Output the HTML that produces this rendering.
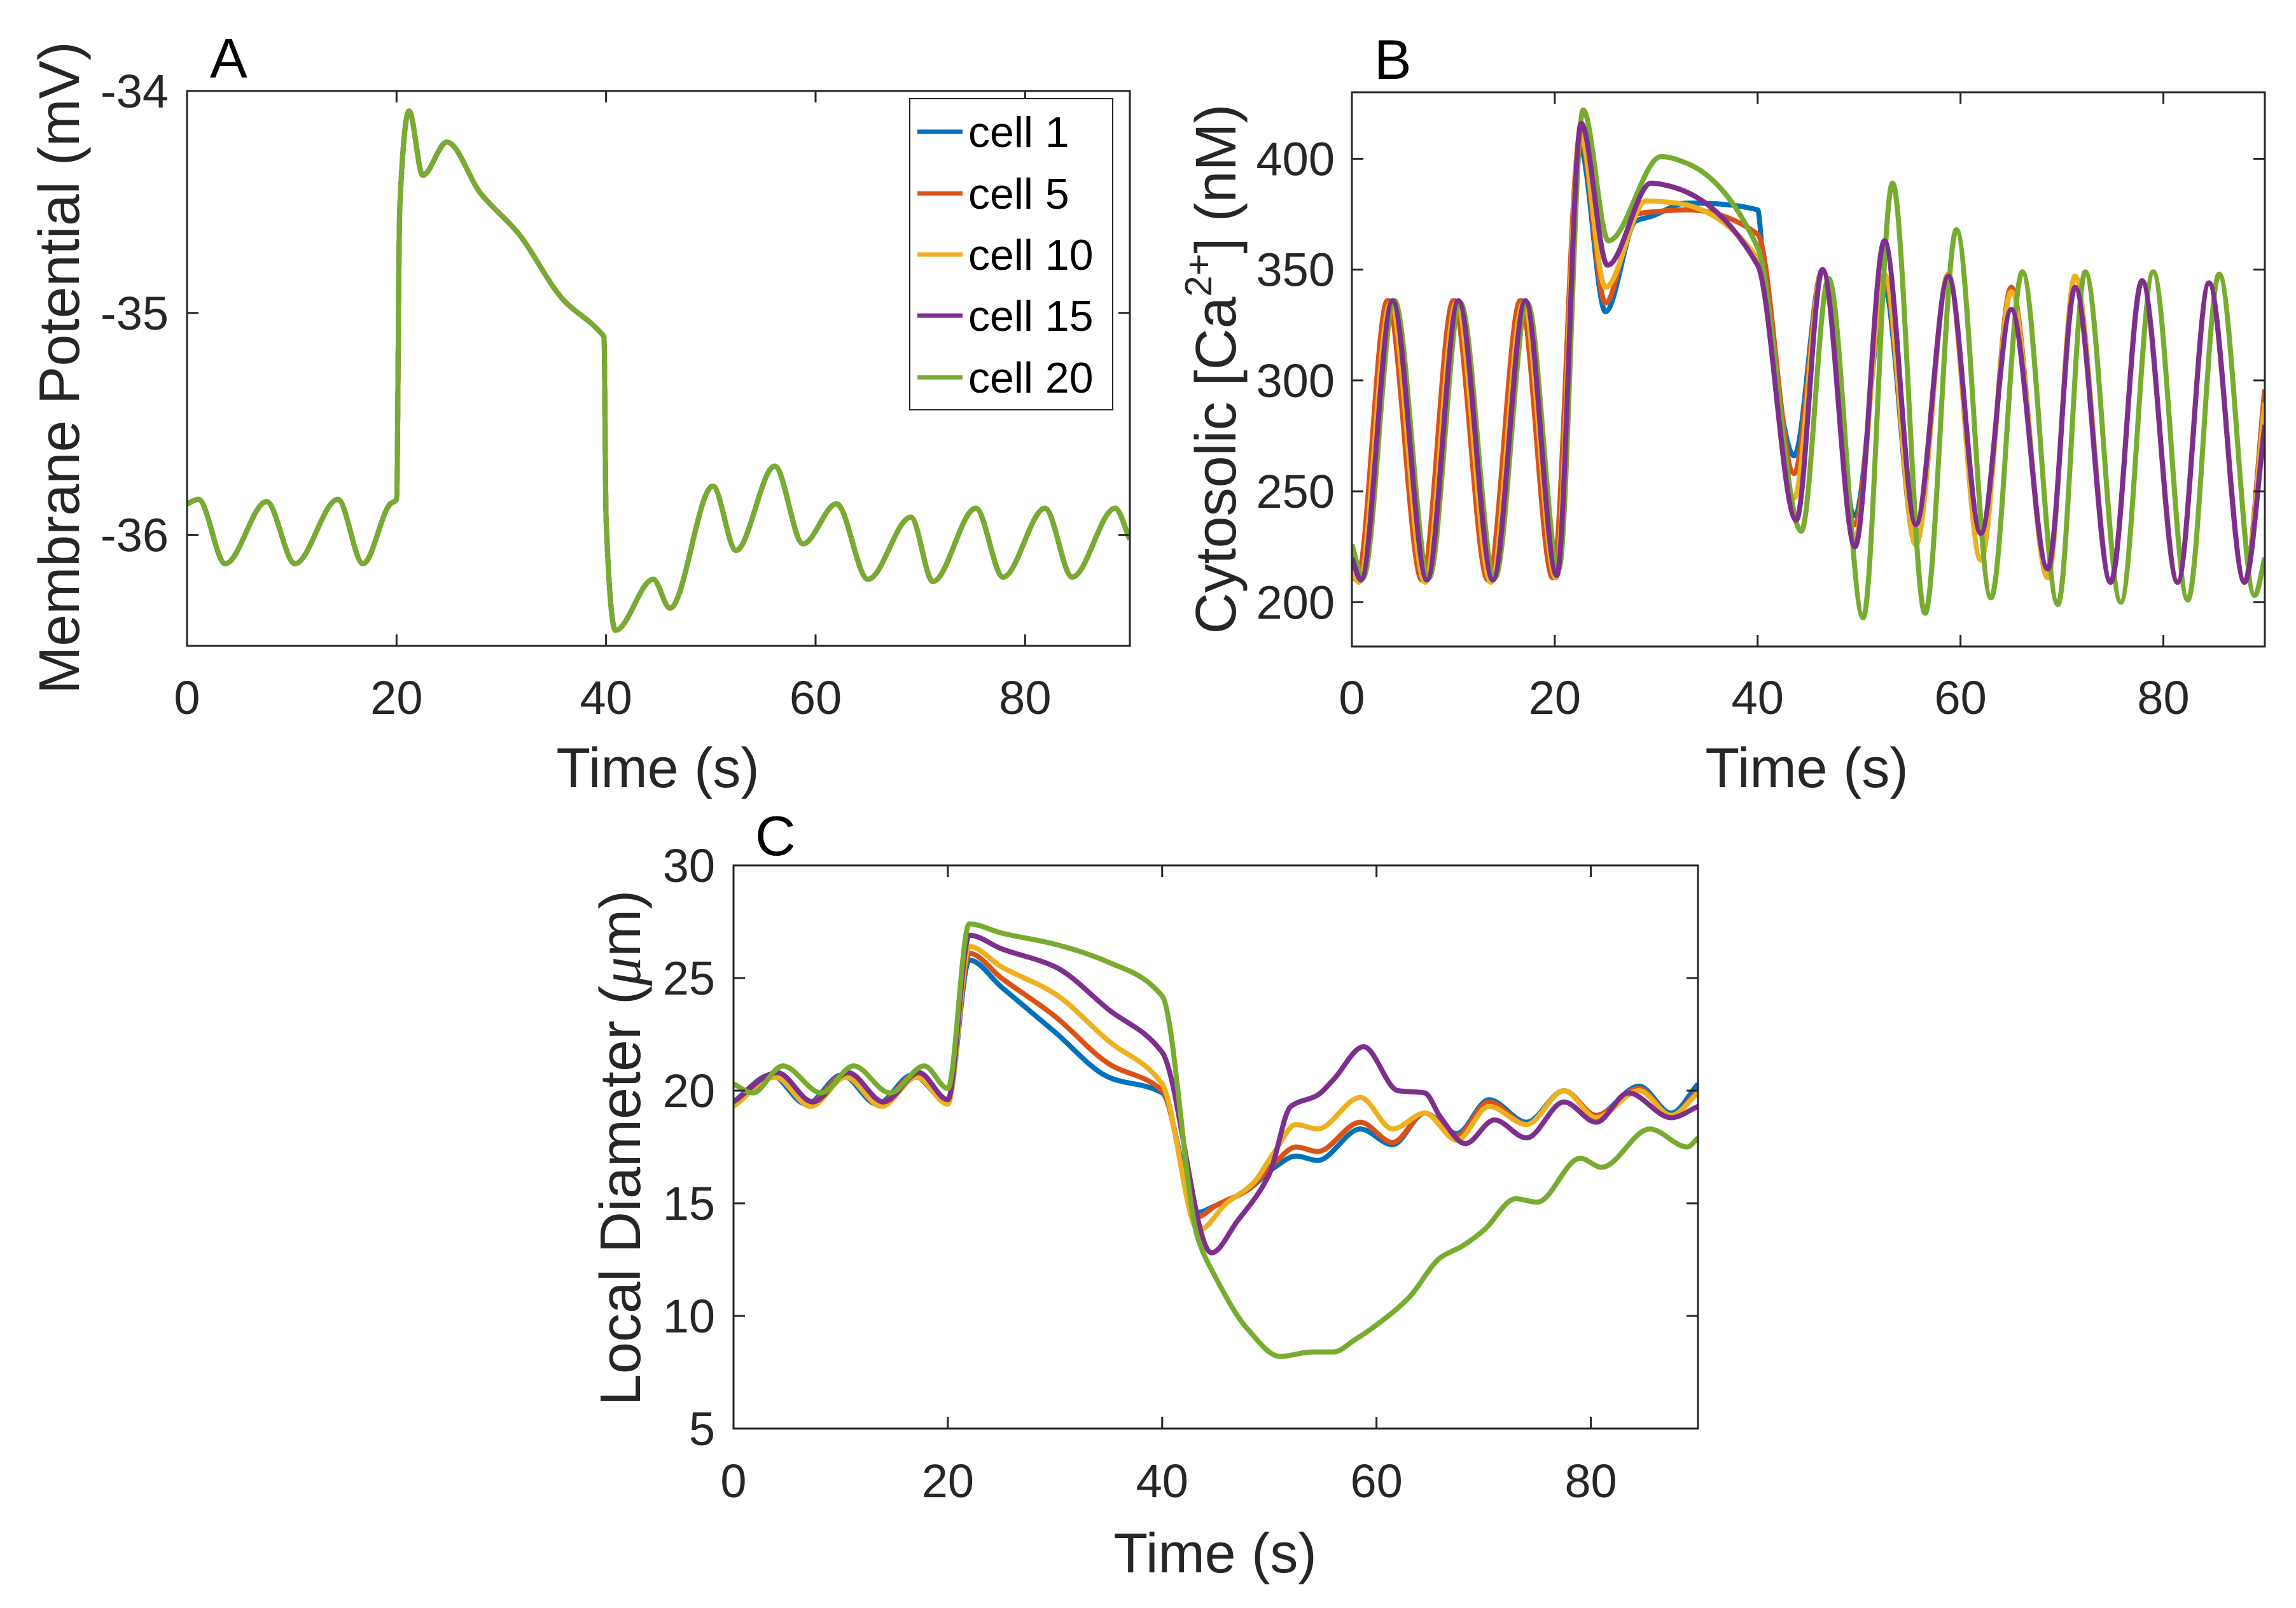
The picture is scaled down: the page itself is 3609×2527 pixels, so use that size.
<!DOCTYPE html>
<html><head><meta charset="utf-8"><style>
html,body{margin:0;padding:0;background:#fff;}
svg{display:block;font-family:"Liberation Sans",Arial,sans-serif;}
</style></head><body>
<svg id="fig" width="3609" height="2527" viewBox="0 0 3609 2527" xmlns="http://www.w3.org/2000/svg">
<rect x="0" y="0" width="3609" height="2527" fill="#fff"/>
</svg>
<script>
// ---------- DATA ----------
const seriesNames = ["cell 1","cell 5","cell 10","cell 15","cell 20"];
const seriesColors = ["#0072BD","#D95319","#EDB120","#7E2F8E","#77AC30"];
const xTicks = [0,20,40,60,80];

// Panel A: membrane potential (all cells coincide)
const aTime = [0,1.1,3.65,7.6,10.3,14.4,16.8,19.4,20,20.3,21.2,22.5,24.8,28,31.6,35.9,39.5,39.8,40.0,40.9,44.5,46.1,50.2,52.4,56.1,58.8,62,65,69.1,71.2,75.3,77.9,81.9,84.5,88.6,90];
const aVm = [-35.86,-35.84,-36.13,-35.85,-36.13,-35.84,-36.13,-35.86,-35.84,-34.53,-34.09,-34.38,-34.23,-34.46,-34.64,-34.94,-35.09,-35.11,-35.93,-36.43,-36.2,-36.33,-35.78,-36.07,-35.69,-36.04,-35.86,-36.2,-35.92,-36.21,-35.88,-36.19,-35.88,-36.19,-35.88,-36.02];
const aYTicks = [-36,-35,-34];

// Panel B: cytosolic Ca2+ per cell
const bTime1 = [0,0.6,3.6,7.0,10.1,13.5,16.7,19.9,22.5,25,28,29.5,33,40,40.6,43.6,46.4,49.6,52.5,55.6,58.8,62,65,68.6,71.3,74.8,77.9,81.4,84.5,88,90];
const bCa1 =   [218,210,336,210,336,210,336,212,405,331,372,374,380,377,350,266,350,239,340,226,348,219,342,211,347,209,345,209,344,209,296];
const bTime5 = [0,0.5,3.5,6.9,10.0,13.4,16.6,19.8,22.5,25,28,29.5,33,40,43.6,46.4,49.6,52.5,55.6,58.8,62,65,68.6,71.3,74.8,77.9,81.4,84.5,88,90];
const bCa5 =   [212,210,336,210,336,210,336,211,410,335,375,376,377,366,258,350,235,345,226,348,219,342,211,347,209,345,209,344,209,296];
const bTime10 = [0,0.7,3.8,7.2,10.3,13.7,16.9,20.1,22.5,25,29,32,40,43.6,46.4,49.6,52.5,55.6,58.8,62,65,68.6,71.3,74.8,77.9,81.4,84.5,88,90];
const bCa10 =   [214,209,335,209,335,209,335,211,412,342,381,380,355,247,350,229,348,226,348,219,340,211,347,209,345,209,344,209,290];
const bTime15 = [0,0.9,4.0,7.4,10.5,13.9,17.1,20.2,22.6,25.2,29.5,31,40,43.8,46.4,49.6,52.5,55.6,58.8,62,65,68.6,71.3,74.8,77.9,81.4,84.5,88,90];
const bCa15 =   [220,210,336,210,336,210,336,212,416,352,389,388,352,237,350,225,363,235,347,231,332,215,342,209,345,209,344,209,280];
const bTime20 = [0,1.1,4.2,7.6,10.7,14.1,17.3,20.4,22.8,25.3,30.5,33,40,44.3,47,50.4,53.3,56.5,59.6,63,66.1,69.6,72.3,75.8,79,82.4,85.5,89,90];
const bCa20 =   [226,211,336,211,335,211,335,215,422,363,401,398,360,232,346,193,389,195,368,202,349,199,349,200,349,201,348,203,220];
const bYTicks = [200,250,300,350,400];

// Panel C: local diameter per cell
const cTime1 = [0,3.5,6.8,10.1,13.4,16.7,20,22,25,30,35,40,43.3,45,48,50.5,52.5,54.5,58.5,61.5,64.5,67.5,70.5,74,77.5,80.5,84.5,87.5,90];
const cDiam1 = [19.5,20.7,19.4,20.7,19.4,20.7,19.5,25.8,24.6,22.6,20.6,19.9,14.6,14.9,15.6,16.6,17.1,16.9,18.3,17.6,19.0,18.1,19.6,18.6,20.0,18.9,20.2,19.0,20.3];
const cTime5 = [0,3.7,7.0,10.3,13.6,16.9,20,22,25,30,35,40,43.3,45,48,50.5,52.5,54.5,58.5,61.5,64.5,67.5,70.5,74,77.5,80.5,84.5,87.5,90];
const cDiam5 = [19.5,20.7,19.4,20.7,19.4,20.7,19.5,26.1,25.0,23.3,21.2,20.0,14.4,14.9,15.6,16.8,17.5,17.3,18.6,17.7,19.0,18.0,19.5,18.5,20.0,18.9,20.1,18.9,20.0];
const cTime10 = [0,3.9,7.2,10.5,13.8,17.1,20,22,25,30,35,40,43.4,46,48.5,50.5,52.5,54.5,58.5,61.5,64.5,67.5,70.5,74,77.5,80.5,84.5,87.5,90];
const cDiam10 = [19.3,20.6,19.3,20.6,19.3,20.6,19.4,26.4,25.5,24.3,22.2,20.3,13.8,15.0,15.9,17.3,18.5,18.3,19.7,18.3,19.0,17.8,19.3,18.5,20.0,18.8,20.0,18.9,19.9];
const cTime15 = [0,4.1,7.4,10.7,14.0,17.3,20,22,25,30,35,40,44.6,47,50,52,54.5,56,58.8,62,64.5,66,68.3,71,74,77.5,80.5,83.5,87.5,90];
const cDiam15 = [19.5,20.8,19.5,20.8,19.5,20.8,19.6,26.9,26.3,25.5,23.6,21.7,12.8,14.2,16.3,19.3,19.8,20.5,21.95,20.0,19.9,18.8,17.65,18.7,17.9,19.5,18.6,19.9,18.8,19.3];
const cTime20 = [0,1.8,4.6,8.2,11.2,14.6,17.8,20,22,25,30,35,40,43.3,45,48,51,54,56,58,60,63,66,68,70,73,75,79,81,85.5,89,90];
const cDiam20 = [20.3,19.9,21.1,19.9,21.1,19.9,21.1,20.1,27.4,27.0,26.5,25.7,24.2,13.5,11.7,9.4,8.2,8.4,8.4,8.95,9.6,10.8,12.6,13.1,13.8,15.2,15.05,17.0,16.6,18.3,17.5,17.9];
const cYTicks = [5,10,15,20,25,30];

// ---------- RENDER ----------
const NS = "http://www.w3.org/2000/svg";
const svg = document.getElementById("fig");
function mk(tag, attrs, parent){
  const e = document.createElementNS(NS, tag);
  for (const k in attrs) e.setAttribute(k, attrs[k]);
  (parent||svg).appendChild(e);
  return e;
}
function txt(str, x, y, size, anchor, parent){
  const t = mk("text", {x:x, y:y, "font-size":size, "text-anchor":anchor||"start", fill:"#262626"}, parent);
  t.textContent = str;
  return t;
}
function makeAxes(name, L, R, T, B, xmin, xmax, ymin, ymax){
  const g = mk("g", {});
  
  
  const sx = v => L + (v - xmin) / (xmax - xmin) * (R - L);
  const sy = v => B - (v - ymin) / (ymax - ymin) * (B - T);
  const cid = "clip-" + name;
  const cp = mk("clipPath", {id: cid}, g);
  mk("rect", {x:L, y:T, width:R-L, height:B-T}, cp);
  return {g, sx, sy, L, R, T, B, cid};
}
function drawFrame(ax, yTicks, yTickFmt, yLabelX, xTickBase){
  const g = ax.g;
  const tl = 18;
  xTicks.forEach(v => {
    const x = ax.sx(v);
    const t1 = mk("line", {x1:x, y1:ax.B, x2:x, y2:ax.B-tl, stroke:"#262626", "stroke-width":3}, g);
    
    
    mk("line", {x1:x, y1:ax.T, x2:x, y2:ax.T+tl, stroke:"#262626", "stroke-width":3}, g);
    const lb = txt(String(v), x, xTickBase, 74, "middle", g);
    
    
  });
  yTicks.forEach(v => {
    const y = ax.sy(v);
    const t1 = mk("line", {x1:ax.L, y1:y, x2:ax.L+tl, y2:y, stroke:"#262626", "stroke-width":3}, g);
    
    
    mk("line", {x1:ax.R, y1:y, x2:ax.R-tl, y2:y, stroke:"#262626", "stroke-width":3}, g);
    const lb = txt(yTickFmt(v), yLabelX, y + 26, 74, "end", g);
    
    
  });
  const fr = mk("rect", {x:ax.L, y:ax.T, width:ax.R-ax.L, height:ax.B-ax.T, fill:"none", stroke:"#262626", "stroke-width":3}, g);
  
  
}
// monotone cubic (Fritsch-Carlson) to avoid overshoot
function smoothPath(pts){
  const n = pts.length;
  const dx = [], dy = [], m = [];
  for (let i = 0; i < n-1; i++){ dx.push(pts[i+1][0]-pts[i][0]); dy.push(pts[i+1][1]-pts[i][1]); m.push(dy[i]/dx[i]); }
  const tg = new Array(n);
  tg[0] = m[0]; tg[n-1] = m[n-2];
  for (let i = 1; i < n-1; i++){
    if (m[i-1]*m[i] <= 0) tg[i] = 0;
    else {
      const w1 = 2*dx[i] + dx[i-1], w2 = dx[i] + 2*dx[i-1];
      tg[i] = (w1 + w2) / (w1/m[i-1] + w2/m[i]);
    }
  }
  let d = "M" + pts[0][0].toFixed(1) + "," + pts[0][1].toFixed(1);
  for (let i = 0; i < n-1; i++){
    const h = dx[i];
    const c1x = pts[i][0] + h/3, c1y = pts[i][1] + tg[i]*h/3;
    const c2x = pts[i+1][0] - h/3, c2y = pts[i+1][1] - tg[i+1]*h/3;
    d += " C" + c1x.toFixed(1) + "," + c1y.toFixed(1) + " " + c2x.toFixed(1) + "," + c2y.toFixed(1) + " " + pts[i+1][0].toFixed(1) + "," + pts[i+1][1].toFixed(1);
  }
  return d;
}
function drawSeries(ax, ts, vs, color, name){
  const pts = ts.map((t,i) => [ax.sx(t), ax.sy(vs[i])]);
  const p = mk("path", {d: smoothPath(pts), fill:"none", stroke:color, "stroke-width":8, "stroke-linejoin":"round", "clip-path":"url(#"+ax.cid+")"}, ax.g);
  
  
}
function rotLabel(parts, x, y, size, name){
  const t = mk("text", {x:0, y:0, "font-size":size, "text-anchor":"middle", fill:"#262626", transform:"translate("+x+","+y+") rotate(-90)"});
  
  
  parts.forEach(p => {
    const s = mk("tspan", {}, t);
    if (p.sup){ s.setAttribute("dy", -38); s.setAttribute("font-size", size*0.66); }
    if (p.back){ s.setAttribute("dy", 38); }
    if (p.it){ s.setAttribute("font-style", "italic"); s.setAttribute("font-family", "Liberation Serif, serif"); }
    s.textContent = p.s;
  });
  return t;
}

// ----- Panel A -----
const axA = makeAxes("panel-a-axes", 294, 1776, 143, 1015, 0, 90, -36.5, -34);
[0,1,2,3,4].forEach(i => drawSeries(axA, aTime, aVm, seriesColors[i], "panel-a-line-" + seriesNames[i].replace(" ","-")));
drawFrame(axA, aYTicks, v => String(v), 265, 1122);
let t;
t = txt("A", 330, 122, 88, "start");   t.setAttribute("fill","#000");
t = txt("Time (s)", 1034, 1237, 88, "middle");  
rotLabel([{s:"Membrane Potential (mV)"}], 124, 578, 90, "panel-a-y-axis-title");

// legend
const lg = mk("g", {});


mk("rect", {x:1430, y:155, width:319, height:489, fill:"#fff", stroke:"#262626", "stroke-width":2}, lg);
const legY = [207, 304, 400, 496, 593];
seriesNames.forEach((n,i) => {
  const e = mk("g", {}, lg);
  
  
  mk("line", {x1:1442, y1:legY[i], x2:1513, y2:legY[i], stroke:seriesColors[i], "stroke-width":7}, e);
  const tt = txt(n, 1522, legY[i] + 24, 68, "start", e);
  tt.setAttribute("fill", "#000");
});

// ----- Panel B -----
const axB = makeAxes("panel-b-axes", 2125, 3560, 145, 1016, 0, 90, 180, 430);
drawSeries(axB, bTime1, bCa1, seriesColors[0], "panel-b-line-cell-1");
drawSeries(axB, bTime5, bCa5, seriesColors[1], "panel-b-line-cell-5");
drawSeries(axB, bTime10, bCa10, seriesColors[2], "panel-b-line-cell-10");
drawSeries(axB, bTime20, bCa20, seriesColors[4], "panel-b-line-cell-20");
drawSeries(axB, bTime15, bCa15, seriesColors[3], "panel-b-line-cell-15");
drawFrame(axB, bYTicks, v => String(v), 2098, 1122);
t = txt("B", 2160, 124, 88, "start");   t.setAttribute("fill","#000");
t = txt("Time (s)", 2840, 1237, 88, "middle");  
rotLabel([{s:"Cytosolic [Ca"},{s:"2+",sup:true},{s:"] (nM)",back:true}], 1942, 580, 90, "panel-b-y-axis-title");

// ----- Panel C -----
const axC = makeAxes("panel-c-axes", 1153, 2669, 1360, 2245, 0, 90, 5, 30);
drawSeries(axC, cTime1, cDiam1, seriesColors[0], "panel-c-line-cell-1");
drawSeries(axC, cTime5, cDiam5, seriesColors[1], "panel-c-line-cell-5");
drawSeries(axC, cTime10, cDiam10, seriesColors[2], "panel-c-line-cell-10");
drawSeries(axC, cTime15, cDiam15, seriesColors[3], "panel-c-line-cell-15");
drawSeries(axC, cTime20, cDiam20, seriesColors[4], "panel-c-line-cell-20");
drawFrame(axC, cYTicks, v => String(v), 1124, 2353);
t = txt("C", 1187, 1344, 88, "start");   t.setAttribute("fill","#000");
t = txt("Time (s)", 1910, 2471, 88, "middle");  
rotLabel([{s:"Local Diameter ("},{s:"μ",it:true},{s:"m)"}], 1006, 1804, 90, "panel-c-y-axis-title");
</script>
</body></html>
